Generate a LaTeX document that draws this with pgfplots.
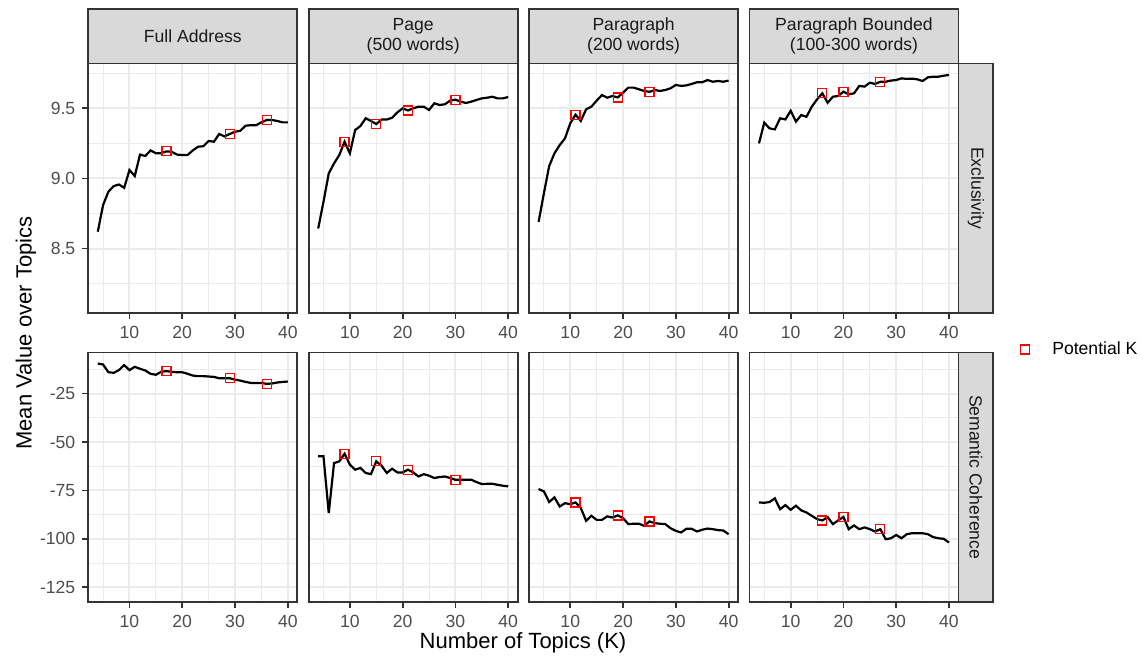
\documentclass[border=0pt]{standalone}
\usepackage{fontspec}
\setmainfont{Liberation Sans}
\usepackage{pgfplots}
\pgfplotsset{compat=1.18}

\definecolor{gridgray}{HTML}{EBEBEB}
\definecolor{bordergray}{HTML}{333333}
\definecolor{stripgray}{HTML}{D9D9D9}
\definecolor{tickgray}{HTML}{4D4D4D}
\definecolor{striptext}{HTML}{1A1A1A}
\definecolor{kred}{HTML}{FF0000}

\pgfplotsset{
  panel/.style={
    scale only axis, width=104.5pt, height=124.75pt, anchor=south west,
    xmin=2.2, xmax=41.8, xtick={10,20,30,40}, minor xtick={5,15,25,35},
    grid=both,
    major grid style={line width=1pt, color=gridgray},
    minor grid style={line width=0.5pt, color=gridgray},
    axis line style={line width=0.9pt, color=bordergray},
    tick align=outside, major tick length=3pt, minor tick length=0pt,
    tick style={line width=0.9pt, color=bordergray},
    xtick pos=bottom, ytick pos=left,
    ticklabel style={font=\fontsize{8.8}{10}\selectfont, text=tickgray},
    /pgf/number format/assume math mode=true,
  },
  toprow/.style={ymin=8.04, ymax=9.82, ytick={8.5,9.0,9.5}, minor ytick={8.25,8.75,9.25,9.75},
    yticklabels={8.5,9.0,9.5}},
  botrow/.style={ymin=-132.6, ymax=-3.8, ytick={-125,-100,-75,-50,-25},
    minor ytick={-112.5,-87.5,-62.5,-37.5,-12.5},
    yticklabels={-125,-100,-75,-50,-25}},
  inner/.style={yticklabels={}, ytick style={draw=none}},
  kline/.style={black, line width=1.1pt, forget plot},
  kmark/.style={only marks, mark=square, mark size=2.25pt, kred, mark options={line width=0.6pt}},
}

\begin{document}
\begin{tikzpicture}
\useasboundingbox (0,0) rectangle (571pt,329pt);

% ---------------- top row: Exclusivity ----------------
\begin{axis}[panel, toprow, at={(44.15pt,172.5pt)}]
\addplot[kline] coordinates {
(4,8.62) (5,8.81) (6,8.905) (7,8.945) (8,8.957) (9,8.933) (10,9.06) (11,9.017)
(12,9.17) (13,9.16) (14,9.20) (15,9.18) (16,9.18) (17,9.193) (18,9.19) (19,9.17)
(20,9.167) (21,9.167) (22,9.20) (23,9.226) (24,9.23) (25,9.267) (26,9.262) (27,9.317)
(28,9.30) (29,9.317) (30,9.333) (31,9.34) (32,9.376) (33,9.38) (34,9.38) (35,9.40)
(36,9.417) (37,9.417) (38,9.41) (39,9.40) (40,9.40)};
\addplot[kmark, forget plot] coordinates {(17,9.193) (29,9.317) (36,9.417)};
\end{axis}

\begin{axis}[panel, toprow, inner, at={(154.35pt,172.5pt)}]
\addplot[kline] coordinates {
(4,8.643) (5,8.833) (6,9.036) (7,9.107) (8,9.167) (9,9.262) (10,9.179) (11,9.345)
(12,9.374) (13,9.429) (14,9.41) (15,9.388) (16,9.42) (17,9.42) (18,9.433) (19,9.471)
(20,9.50) (21,9.485) (22,9.50) (23,9.512) (24,9.512) (25,9.488) (26,9.536) (27,9.524)
(28,9.529) (29,9.555) (30,9.562) (31,9.548) (32,9.538) (33,9.548) (34,9.56) (35,9.571)
(36,9.576) (37,9.583) (38,9.571) (39,9.571) (40,9.581)};
\addplot[kmark, forget plot] coordinates {(9,9.262) (15,9.388) (21,9.485) (30,9.562)};
\end{axis}

\begin{axis}[panel, toprow, inner, at={(264.55pt,172.5pt)}]
\addplot[kline] coordinates {
(4,8.69) (5,8.893) (6,9.088) (7,9.179) (8,9.238) (9,9.286) (10,9.393) (11,9.455)
(12,9.41) (13,9.493) (14,9.512) (15,9.555) (16,9.595) (17,9.576) (18,9.588) (19,9.578)
(20,9.612) (21,9.648) (22,9.648) (23,9.636) (24,9.624) (25,9.618) (26,9.631) (27,9.624)
(28,9.631) (29,9.643) (30,9.667) (31,9.66) (32,9.664) (33,9.674) (34,9.686) (35,9.686)
(36,9.702) (37,9.69) (38,9.695) (39,9.69) (40,9.698)};
\addplot[kmark, forget plot] coordinates {(11,9.455) (19,9.578) (25,9.618)};
\end{axis}

\begin{axis}[panel, toprow, inner, at={(374.75pt,172.5pt)}]
\addplot[kline] coordinates {
(4,9.25) (5,9.398) (6,9.357) (7,9.35) (8,9.429) (9,9.421) (10,9.483) (11,9.405)
(12,9.452) (13,9.44) (14,9.512) (15,9.564) (16,9.607) (17,9.54) (18,9.583) (19,9.588)
(20,9.619) (21,9.60) (22,9.607) (23,9.66) (24,9.655) (25,9.683) (26,9.674) (27,9.69)
(28,9.69) (29,9.698) (30,9.702) (31,9.714) (32,9.71) (33,9.712) (34,9.707) (35,9.695)
(36,9.721) (37,9.726) (38,9.726) (39,9.733) (40,9.738)};
\addplot[kmark, forget plot] coordinates {(16,9.607) (20,9.619) (27,9.69)};
\end{axis}

% ---------------- bottom row: Semantic Coherence ----------------
\begin{axis}[panel, botrow, at={(44.15pt,28pt)}]
\addplot[kline] coordinates {
(4,-9.5) (5,-10.0) (6,-13.97) (7,-14.3) (8,-12.9) (9,-10.3) (10,-12.9) (11,-11.2)
(12,-12.2) (13,-13.1) (14,-14.8) (15,-15.3) (16,-13.8) (17,-13.4) (18,-13.8) (19,-14.0)
(20,-14.0) (21,-14.8) (22,-15.7) (23,-16.0) (24,-16.0) (25,-16.2) (26,-16.4) (27,-17.1)
(28,-17.1) (29,-17.1) (30,-17.8) (31,-18.3) (32,-19.0) (33,-19.5) (34,-19.5) (35,-19.5)
(36,-20.0) (37,-19.8) (38,-19.3) (39,-19.0) (40,-18.8)};
\addplot[kmark, forget plot] coordinates {(17,-13.4) (29,-17.1) (36,-20.0)};
\end{axis}

\begin{axis}[panel, botrow, inner, at={(154.35pt,28pt)}]
\addplot[kline] coordinates {
(4,-57.4) (5,-57.4) (6,-86.7) (7,-60.9) (8,-60.0) (9,-56.1) (10,-61.7) (11,-64.3)
(12,-63.4) (13,-66.0) (14,-66.6) (15,-60.0) (16,-62.2) (17,-66.0) (18,-63.8) (19,-65.7)
(20,-65.7) (21,-64.3) (22,-65.7) (23,-67.8) (24,-66.6) (25,-67.4) (26,-68.6) (27,-68.1)
(28,-67.8) (29,-68.6) (30,-69.5) (31,-69.5) (32,-69.5) (33,-69.5) (34,-70.7) (35,-71.7)
(36,-71.6) (37,-71.6) (38,-72.1) (39,-72.6) (40,-72.9)};
\addplot[kmark, forget plot] coordinates {(9,-56.1) (15,-60.0) (21,-64.3) (30,-69.5)};
\end{axis}

\begin{axis}[panel, botrow, inner, at={(264.55pt,28pt)}]
\addplot[kline] coordinates {
(4,-74.3) (5,-75.5) (6,-81.0) (7,-78.6) (8,-83.3) (9,-81.6) (10,-82.1) (11,-81.2)
(12,-84.1) (13,-90.7) (14,-88.1) (15,-90.2) (16,-90.2) (17,-88.4) (18,-89.0) (19,-87.9)
(20,-89.3) (21,-92.4) (22,-92.2) (23,-92.2) (24,-93.3) (25,-91.0) (26,-91.9) (27,-92.2)
(28,-92.4) (29,-94.5) (30,-95.9) (31,-96.7) (32,-94.8) (33,-94.8) (34,-96.2) (35,-95.3)
(36,-94.7) (37,-95.0) (38,-95.5) (39,-95.7) (40,-97.6)};
\addplot[kmark, forget plot] coordinates {(11,-81.2) (19,-87.9) (25,-91.0)};
\end{axis}

\begin{axis}[panel, botrow, inner, at={(374.75pt,28pt)},
  legend style={at={(1.265,1.012)}, anchor=west, draw=none, fill=none,
    font=\fontsize{8.8}{10}\selectfont}, legend cell align=left]
\addplot[kline] coordinates {
(4,-81.2) (5,-81.4) (6,-81.0) (7,-79.1) (8,-84.7) (9,-82.6) (10,-85.0) (11,-82.9)
(12,-85.3) (13,-86.4) (14,-88.1) (15,-89.8) (16,-90.5) (17,-88.8) (18,-92.4) (19,-90.5)
(20,-88.7) (21,-95.0) (22,-93.1) (23,-95.0) (24,-94.1) (25,-95.0) (26,-96.2) (27,-95.0)
(28,-100.2) (29,-99.7) (30,-98.0) (31,-99.7) (32,-97.6) (33,-97.1) (34,-97.1) (35,-97.1)
(36,-97.6) (37,-99.1) (38,-99.7) (39,-100.0) (40,-101.9)};
\addplot[kmark] coordinates {(16,-90.5) (20,-88.7) (27,-95.0)};
\addlegendentry{\hspace{9.5pt}Potential K}
\end{axis}

% ---------------- facet strips ----------------
\foreach \x/\lab in {44.15/{Full Address}, 154.35/{Page\\(500 words)},
                     264.55/{Paragraph\\(200 words)}, 374.75/{Paragraph Bounded\\(100-300 words)}} {
  \draw[fill=stripgray, draw=bordergray, line width=0.9pt] (\x pt,297.25pt) rectangle ++(104.5pt,27.1pt);
  \node[align=center, font=\fontsize{8.8}{10}\selectfont, text=striptext]
    at (\x pt+52.25pt,310.8pt) {\lab};
}
\draw[fill=stripgray, draw=bordergray, line width=0.9pt] (479.25pt,172.5pt) rectangle ++(17.4pt,124.75pt);
\draw[fill=stripgray, draw=bordergray, line width=0.9pt] (479.25pt,28pt) rectangle ++(17.4pt,124.75pt);
\node[rotate=-90, font=\fontsize{8.8}{10}\selectfont, text=striptext] at (487.95pt,234.9pt) {Exclusivity};
\node[rotate=-90, font=\fontsize{8.8}{10}\selectfont, text=striptext] at (487.95pt,90.4pt) {Semantic Coherence};

% ---------------- axis titles ----------------
\node[font=\fontsize{11}{13}\selectfont] at (261.5pt,7.5pt) {Number of Topics (K)};
\node[rotate=90, font=\fontsize{11}{13}\selectfont] at (13pt,162.5pt) {Mean Value over Topics};
\end{tikzpicture}
\end{document}
